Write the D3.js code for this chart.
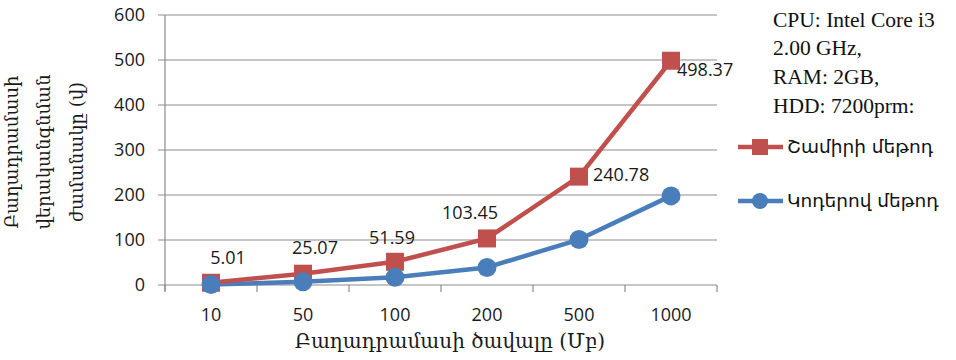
<!DOCTYPE html>
<html>
<head>
<meta charset="utf-8">
<script src="https://cdn.jsdelivr.net/npm/d3@7"></script>
<style>
  html, body { margin: 0; padding: 0; background: #fff; }
  svg { display: block; }
</style>
</head>
<body>
<svg id="chart" width="956" height="360"></svg>
<script>
// Component size categories (MB)
const categories = ["10", "50", "100", "200", "500", "1000"];
// Recovery time, seconds
const shamirValues = [5.01, 25.07, 51.59, 103.45, 240.78, 498.37];
const codesValues = [1, 7, 17, 39, 101, 198];
const yTicks = [0, 100, 200, 300, 400, 500, 600];

const seriesNames = ["Շամիրի մեթոդ", "Կոդերով մեթոդ"];
const yTitleLines = ["Բաղադրամասի", "վերականգնման", "ժամանակը (վ)"];
const xTitle = "Բաղադրամասի ծավալը (Մբ)";
const specLines = ["CPU: Intel Core i3", "2.00 GHz,", "RAM: 2GB,", "HDD: 7200prm:"];

const RED = "#c0504d", BLUE = "#4a7ebb", GRID = "#8c8c8c", INK = "#1a1a1a";
const tickFont = "'Open Sans', 'DejaVu Sans', sans-serif";

const svg = d3.select("#chart");
const plot = { left: 165, right: 717, top: 15, bottom: 285 };

const x = d3.scaleBand().domain(categories).range([plot.left, plot.right]);
const y = d3.scaleLinear().domain([0, 600]).range([plot.bottom, plot.top]);
const cx = c => x(c) + x.bandwidth() / 2;

// Horizontal gridlines
svg.append("g").selectAll("line").data(yTicks).join("line")
  .attr("x1", plot.left - 7).attr("x2", plot.right)
  .attr("y1", d => y(d)).attr("y2", d => y(d))
  .attr("stroke", GRID).attr("stroke-width", 1.2);

// Y axis line
svg.append("line").attr("x1", plot.left).attr("x2", plot.left)
  .attr("y1", plot.top).attr("y2", plot.bottom + 6)
  .attr("stroke", GRID).attr("stroke-width", 1.2);

// X axis category tick marks
const bounds = d3.range(categories.length + 1).map(i => plot.left + i * x.bandwidth());
svg.append("g").selectAll("line").data(bounds).join("line")
  .attr("x1", d => d).attr("x2", d => d)
  .attr("y1", plot.bottom).attr("y2", plot.bottom + 7)
  .attr("stroke", GRID).attr("stroke-width", 1.2);

// Y tick labels
svg.append("g").selectAll("text").data(yTicks).join("text")
  .attr("x", plot.left - 20).attr("y", d => y(d)).attr("dy", "0.35em")
  .attr("text-anchor", "end").attr("font-family", tickFont).attr("font-size", 18)
  .attr("fill", INK).text(d => d);

// X tick labels
svg.append("g").selectAll("text").data(categories).join("text")
  .attr("x", d => cx(d)).attr("y", plot.bottom + 30).attr("dy", "0.35em")
  .attr("text-anchor", "middle").attr("font-family", tickFont).attr("font-size", 18)
  .attr("fill", INK).text(d => d);

// Axis titles
svg.append("text").attr("x", 450)
  .attr("y", 341).attr("dy", "0.35em").attr("text-anchor", "middle")
  .attr("font-family", "'DejaVu Serif', serif").attr("font-size", 20).attr("fill", INK)
  .text(xTitle);

const yTitle = svg.append("text").attr("transform", "translate(44,152) rotate(-90)")
  .attr("text-anchor", "middle").attr("font-family", "'DejaVu Serif', serif")
  .attr("font-size", 18).attr("fill", INK);
yTitleLines.forEach((t, i) => {
  yTitle.append("tspan").attr("x", 0).attr("y", (i - 1) * 32.5).attr("dy", "0.35em").text(t);
});

// Series lines and markers
const line = d3.line().x((d, i) => cx(categories[i])).y(d => y(d));

svg.append("path").datum(codesValues).attr("d", line)
  .attr("fill", "none").attr("stroke", BLUE).attr("stroke-width", 4.5).attr("stroke-linejoin", "round");
svg.append("path").datum(shamirValues).attr("d", line)
  .attr("fill", "none").attr("stroke", RED).attr("stroke-width", 4.5).attr("stroke-linejoin", "round");

const sq = 18;
svg.append("g").selectAll("rect").data(shamirValues).join("rect")
  .attr("x", (d, i) => cx(categories[i]) - sq / 2).attr("y", d => y(d) - sq / 2)
  .attr("width", sq).attr("height", sq).attr("fill", RED);

svg.append("g").selectAll("circle").data(codesValues).join("circle")
  .attr("cx", (d, i) => cx(categories[i])).attr("cy", d => y(d))
  .attr("r", 9.5).attr("fill", BLUE);

// Data labels for the Shamir series (hand-placed offsets from each point)
const labelOffsets = [[17, -25, "middle"], [12, -26, "middle"], [-3, -24, "middle"],
                      [-17, -26, "middle"], [14, -2, "start"], [6, 9, "start"]];
svg.append("g").selectAll("text").data(shamirValues).join("text")
  .attr("x", (d, i) => cx(categories[i]) + labelOffsets[i][0])
  .attr("y", (d, i) => y(d) + labelOffsets[i][1]).attr("dy", "0.35em")
  .attr("text-anchor", (d, i) => labelOffsets[i][2])
  .attr("font-family", tickFont).attr("font-size", 18).attr("fill", INK)
  .text(d => d.toFixed(2));

// Hardware note
svg.append("g").selectAll("text").data(specLines).join("text")
  .attr("x", 773).attr("y", (d, i) => 19 + i * 28.8).attr("dy", "0.35em")
  .attr("font-family", "'Liberation Serif', serif").attr("font-size", 21.5).attr("fill", "#111")
  .text(d => d);

// Legend
const legend = svg.append("g");
const legendRows = [
  { name: seriesNames[0], color: RED, shape: "rect", y: 147 },
  { name: seriesNames[1], color: BLUE, shape: "circle", y: 201 }
];
legendRows.forEach(r => {
  legend.append("line").attr("x1", 738).attr("x2", 783).attr("y1", r.y).attr("y2", r.y)
    .attr("stroke", r.color).attr("stroke-width", 4.5);
  if (r.shape === "rect") {
    legend.append("rect").attr("x", 760 - 8).attr("y", r.y - 8).attr("width", 16).attr("height", 16).attr("fill", r.color);
  } else {
    legend.append("circle").attr("cx", 760).attr("cy", r.y).attr("r", 8).attr("fill", r.color);
  }
  legend.append("text").attr("x", 787).attr("y", r.y).attr("dy", "0.35em")
    .attr("font-family", "'DejaVu Sans', sans-serif").attr("font-size", 18.5).attr("fill", "#111")
    .text(r.name);
});
</script>
</body>
</html>
